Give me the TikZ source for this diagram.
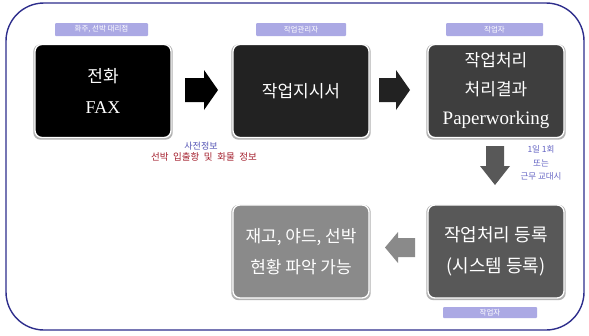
\documentclass[tikz,border=0pt]{standalone}
\usepackage{fontspec}
\setmainfont{Liberation Serif}
\newfontfamily\kr{Noto Sans CJK KR}
\newfontfamily\lser{Liberation Serif}
\usetikzlibrary{shadows}
\definecolor{framec}{HTML}{2E2E8C}
\definecolor{lav}{HTML}{ABA9E4}
\definecolor{bluet}{HTML}{5252B4}
\definecolor{redt}{HTML}{A4202E}
\definecolor{purplet}{HTML}{6464C4}
\definecolor{cA}{HTML}{000000}
\definecolor{cB}{HTML}{222222}
\definecolor{cC}{HTML}{3E3E3E}
\definecolor{cD}{HTML}{585858}
\definecolor{cE}{HTML}{8A8A8A}
\begin{document}
\begin{tikzpicture}[x=1pt,y=-1pt,
  box/.style={rounded corners=7pt, draw=white, line width=1.3pt, text=white, align=center,
    minimum width=136pt, minimum height=93pt, inner sep=0pt,
    general shadow={fill=black!30, shadow yshift=-1pt, shadow scale=1.025}},
  lab/.style={fill=lav, text=white, font=\kr\fontsize{7.5}{9}\selectfont,
    minimum height=13pt, inner sep=0pt, rounded corners=1pt},
  big/.style={font=\kr\fontsize{17}{31}\selectfont},
  note/.style={font=\kr\fontsize{8.5}{13.5}\selectfont, align=center, inner sep=0pt}
]
\useasboundingbox (0,0) rectangle (589,335);
\fill[white] (0,0) rectangle (589,335);
% frame
\draw[framec, line width=1.4pt, rounded corners=38pt] (6,3) rectangle (584,330);

% labels
\node[lab, minimum width=93pt] (l1) at (101.5,29.5) {화주, 선박 대리점};
\node[lab, minimum width=90pt] (l2) at (301,29.5) {작업관리자};
\node[lab, minimum width=97pt] (l3) at (494.5,29.5) {작업자};
\node[lab, minimum width=94pt, minimum height=11pt] (l4) at (490,312.5) {작업자};

% boxes
\node[box, big, fill=cA] (b1) at (103,91) {전화\\{\lser\fontsize{18}{31}\selectfont FAX}};
\node[box, big, fill=cB] (b2) at (301,91) {작업지시서};
\node[box, fill=cC, font=\kr\fontsize{17}{29}\selectfont] (b3) at (496,91) {작업처리\\처리결과\\{\lser\fontsize{19}{29}\selectfont Paperworking}};
\node[box, fill=cD, font=\kr\fontsize{18}{31}\selectfont] (b4) at (496,251.5) {작업처리 등록\\(시스템 등록)};
\node[box, big, fill=cE] (b5) at (301,251.5) {재고, 야드, 선박\\현황 파악 가능};

% block arrows
\fill[black] (185,78) -- (204,78) -- (204,70) -- (218,90) -- (204,110) -- (204,102) -- (185,102) -- cycle;
\fill[cB] (379,78) -- (396,78) -- (396,70) -- (410,90) -- (396,110) -- (396,102) -- (379,102) -- cycle;
\fill[cD] (486,146) -- (504,146) -- (504,166) -- (510,166) -- (495,185) -- (480,166) -- (486,166) -- cycle;
\fill[cE] (415,238) -- (398,238) -- (398,232) -- (385,247.5) -- (398,263) -- (398,257) -- (415,257) -- cycle;

% notes
\node[note, text=bluet, font=\kr\fontsize{9}{10}\selectfont] (n1) at (201,146.5) {사전정보};
\node[note, text=redt, font=\kr\fontsize{9.5}{10}\selectfont] (n2) at (204,157) {선박\hspace{2.5pt} 입출항\hspace{2.5pt} 및\hspace{2.5pt} 화물\hspace{2.5pt} 정보};
\node[note, text=purplet] (n3) at (541,163) {1일 1회\\또는\\근무 교대시};
\end{tikzpicture}
\end{document}
